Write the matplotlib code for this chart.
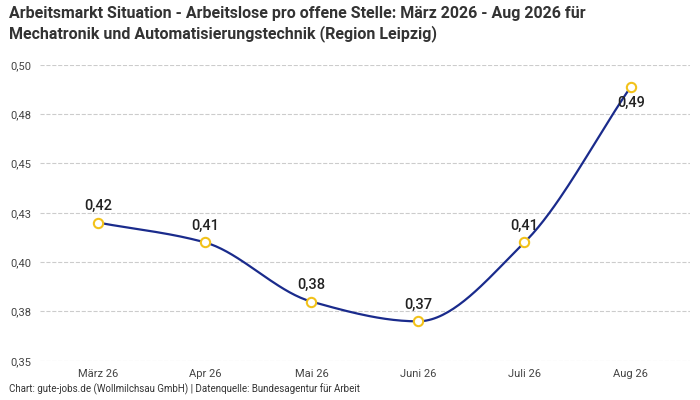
import numpy as np
import matplotlib.pyplot as plt
from decimal import Decimal, ROUND_HALF_UP
from matplotlib.ticker import FuncFormatter

plt.rcParams['font.family'] = ['Roboto', 'DejaVu Sans']

# Daten
monate = ['März 26', 'Apr 26', 'Mai 26', 'Juni 26', 'Juli 26', 'Aug 26']
werte = [0.420, 0.410, 0.380, 0.370, 0.410, 0.489]
labels = ['0,42', '0,41', '0,38', '0,37', '0,41', '0,49']


def monotone_curve(x, y, n=40):
    # Fritsch-Carlson monotone kubische Interpolation (nur für die Linienform)
    x = np.asarray(x, float); y = np.asarray(y, float)
    h = np.diff(x); d = np.diff(y) / h
    m = np.zeros_like(y)
    m[0], m[-1] = d[0], d[-1]
    for i in range(1, len(y) - 1):
        m[i] = 0 if d[i-1] * d[i] <= 0 else 3 * (h[i-1] + h[i]) / ((2*h[i] + h[i-1]) / d[i-1] + (h[i] + 2*h[i-1]) / d[i])
    xs, ys = [], []
    for i in range(len(h)):
        t = np.linspace(0, 1, n)
        h00 = 2*t**3 - 3*t**2 + 1; h10 = t**3 - 2*t**2 + t
        h01 = -2*t**3 + 3*t**2; h11 = t**3 - t**2
        xs.append(x[i] + t*h[i])
        ys.append(h00*y[i] + h10*h[i]*m[i] + h01*y[i+1] + h11*h[i]*m[i+1])
    return np.concatenate(xs), np.concatenate(ys)


def fmt(v, p):
    s = Decimal(str(round(v, 4))).quantize(Decimal('0.01'), rounding=ROUND_HALF_UP)
    return str(s).replace('.', ',')


fig = plt.figure(figsize=(7, 4), dpi=100)
ax = fig.add_axes([0.057, 0.098, 0.928, 0.74])

x = np.arange(len(monate))
cx, cy = monotone_curve(x, werte)
ax.plot(cx, cy, color='#1a2b8c', lw=1.6, zorder=2)
ax.scatter(x, werte, s=45, facecolor='white', edgecolor='#f2c21b', lw=1.5, zorder=3)
for i, (xi, yi, lab) in enumerate(zip(x, werte, labels)):
    if i == len(x) - 1:
        # letzter Punkt: Label unterhalb, sonst oben abgeschnitten
        ax.annotate(lab, (xi, yi), xytext=(0, -7), textcoords='offset points',
                    ha='center', va='top', fontsize=10.5, fontweight='medium', color='#222222')
    else:
        ax.annotate(lab, (xi, yi), xytext=(0, 7), textcoords='offset points',
                    ha='center', va='bottom', fontsize=10.5, fontweight='medium', color='#222222')

ax.set_xlim(-0.55, len(monate) - 0.45)
ax.set_ylim(0.35, 0.5)
ax.set_yticks([0.35, 0.375, 0.40, 0.425, 0.45, 0.475, 0.50])
ax.yaxis.set_major_formatter(FuncFormatter(fmt))
ax.set_xticks(x)
ax.set_xticklabels(monate)
ax.tick_params(length=0, labelsize=8, colors='#444444', pad=6)
ax.grid(axis='y', ls='--', color='#cccccc', lw=0.8)
for s in ax.spines.values():
    s.set_visible(False)

fig.text(0.013, 0.985, 'Arbeitsmarkt Situation - Arbeitslose pro offene Stelle: März 2026 - Aug 2026 für\n'
         'Mechatronik und Automatisierungstechnik (Region Leipzig)',
         ha='left', va='top', fontsize=11.5, fontweight='bold', color='#333333', linespacing=1.3)
fig.text(0.013, 0.012, 'Chart: gute-jobs.de (Wollmilchsau GmbH) | Datenquelle: Bundesagentur für Arbeit',
         ha='left', va='bottom', fontsize=7, color='#333333')

fig.savefig('out.png', dpi=100)
